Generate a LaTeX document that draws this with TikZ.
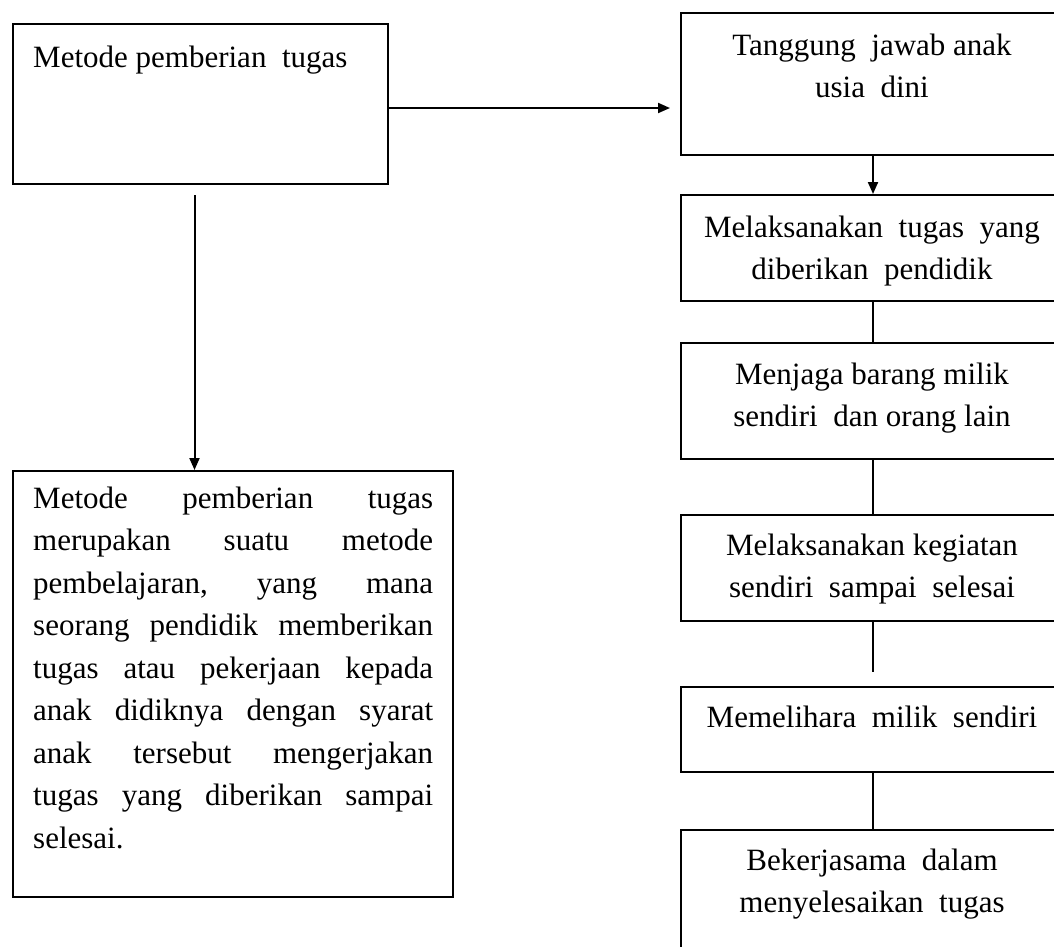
\documentclass[tikz,border=0pt]{standalone}
\usepackage{fontspec}
\setmainfont{Liberation Serif}
\usetikzlibrary{arrows.meta}
\newcommand\cl[1]{\hbox to 0pt{\hss #1\hss}}
\newcommand\jl[1]{\hbox to 400pt{#1}}
\begin{document}
\begin{tikzpicture}[x=1pt,y=-1pt,
  box/.style={draw,line width=2pt,inner sep=0pt,anchor=north west},
  txt/.style={inner sep=0pt,anchor=base,font=\fontsize{31}{42.5}\selectfont},
  conn/.style={line width=2pt},
  arr/.style={line width=2pt,-{Triangle[length=12pt,width=10pt]}}]
\useasboundingbox (0,0) rectangle (1054,946);
\clip (0,0) rectangle (1054,946);
% left boxes
\node[box,minimum width=375pt,minimum height=160pt] (b0) at (12,23) {};
\node[box,minimum width=440pt,minimum height=426pt] (b7) at (12,470) {};
% right column
\node[box,minimum width=384pt,minimum height=142pt] (b1) at (680,12) {};
\node[box,minimum width=384pt,minimum height=106pt] (b2) at (680,194) {};
\node[box,minimum width=384pt,minimum height=116pt] (b3) at (680,342) {};
\node[box,minimum width=384pt,minimum height=106pt] (b4) at (680,514) {};
\node[box,minimum width=384pt,minimum height=85pt] (b5) at (680,686) {};
\node[box,minimum width=384pt,minimum height=150pt] (b6) at (680,829) {};
% texts
\node[txt,anchor=base west] (t0) at (33,67) {Metode pemberian~ tugas};
\node[txt] (t1) at (872,55) {\vtop{\cl{Tanggung~ jawab anak}\cl{usia~ dini}}};
\node[txt] (t2) at (872,237) {\vtop{\cl{Melaksanakan~ tugas~ yang}\cl{diberikan~ pendidik}}};
\node[txt] (t3) at (872,384) {\vtop{\cl{Menjaga barang milik}\cl{sendiri~ dan orang lain}}};
\node[txt] (t4) at (872,555) {\vtop{\cl{Melaksanakan kegiatan}\cl{sendiri~ sampai~ selesai}}};
\node[txt] (t5) at (872,727) {\cl{Memelihara~ milik~ sendiri}};
\node[txt] (t6) at (872,870) {\vtop{\cl{Bekerjasama~ dalam}\cl{menyelesaikan~ tugas}}};
\node[txt,anchor=base west] (t7) at (33,508) {\vtop{%
\jl{Metode\hfill pemberian\hfill tugas}
\jl{merupakan\hfill suatu\hfill metode}
\jl{pembelajaran,\hfill yang\hfill mana}
\jl{seorang\hfill pendidik\hfill memberikan}
\jl{tugas\hfill atau\hfill pekerjaan\hfill kepada}
\jl{anak\hfill didiknya\hfill dengan\hfill syarat}
\jl{anak\hfill tersebut\hfill mengerjakan}
\jl{tugas\hfill yang\hfill diberikan\hfill sampai}
\jl{selesai.\hfil}}};
% connectors
\draw[arr,shorten >=10pt] ([yshift=-4pt]b0.east) -- ([yshift=-4pt]b0.east -| b1.west);
\draw[arr,shorten <=10pt] ([xshift=-6pt]b0.south) -- ([xshift=-6pt]b0.south |- b7.north);
\draw[arr] (b1.south) -- (b2.north);
\draw[conn] (b2.south) -- (b3.north);
\draw[conn] (b3.south) -- (b4.north);
\draw[conn,shorten >=14pt] (b4.south) -- (b5.north);
\draw[conn] (b5.south) -- (b6.north);
\end{tikzpicture}
\end{document}
